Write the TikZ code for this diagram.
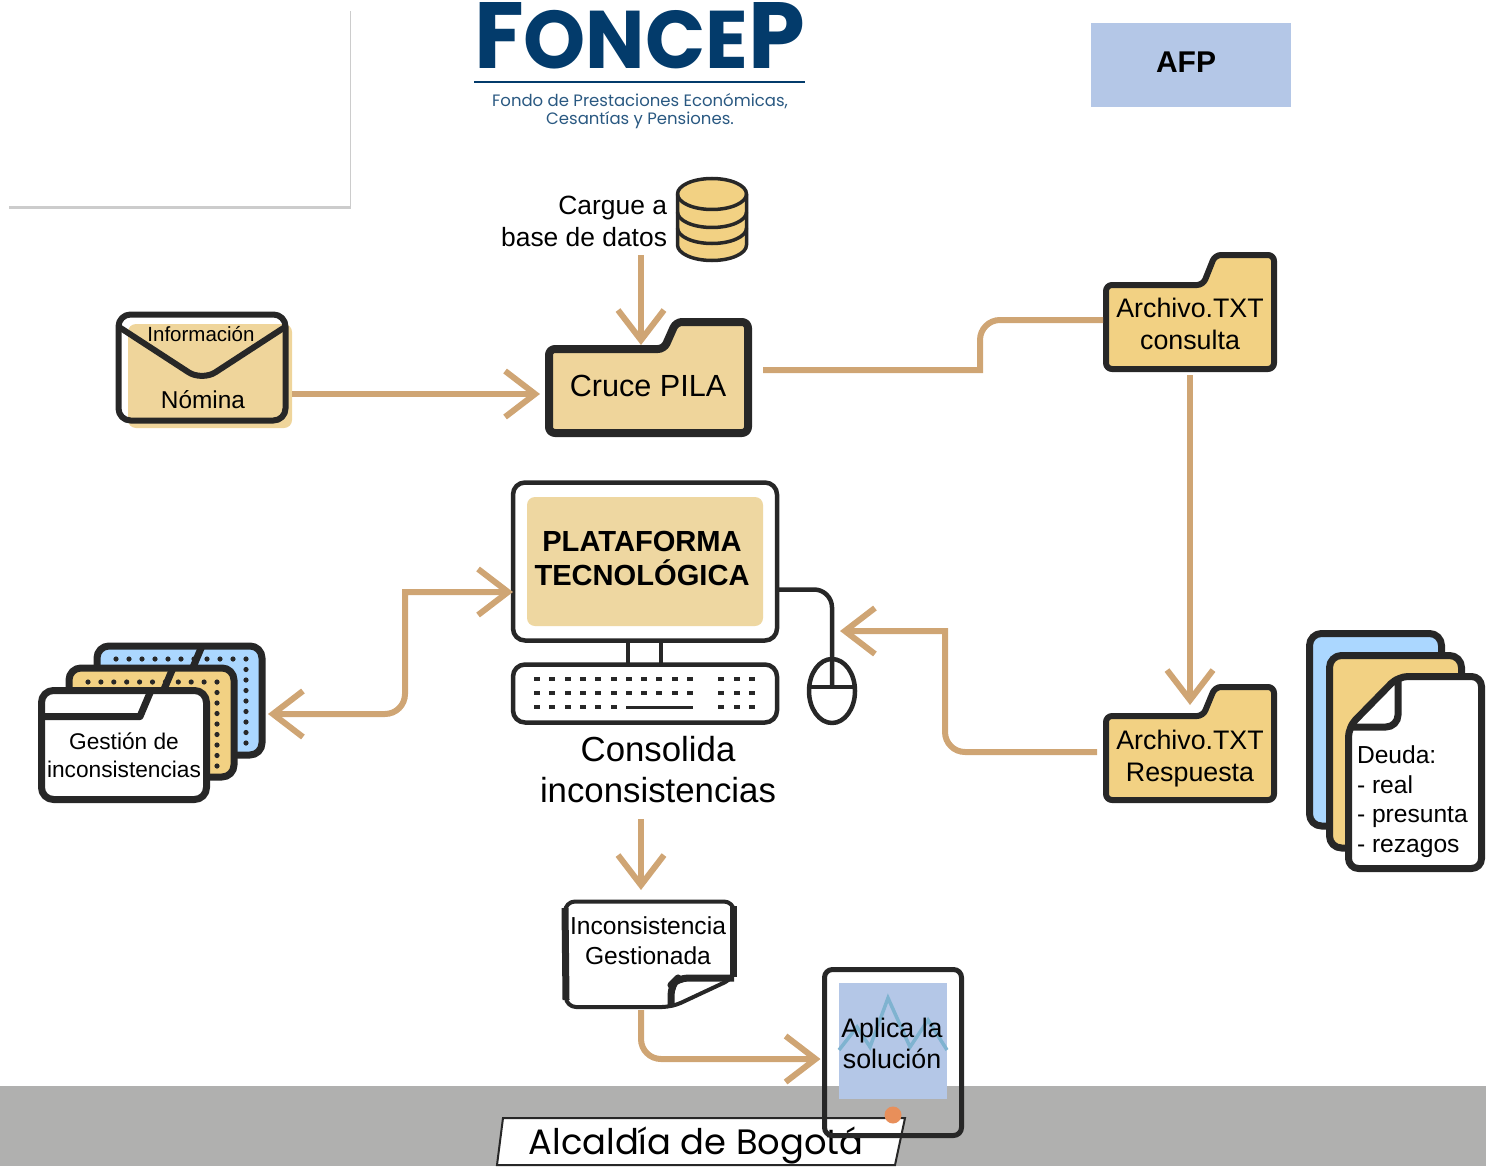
\documentclass[tikz,border=0pt]{standalone}
\usepackage{fontspec}
\setmainfont{Liberation Sans}
\newfontfamily\logofont{Poppins}
\usetikzlibrary{shapes.geometric, arrows.meta, positioning, shadows}

\definecolor{trazo}{HTML}{272727}
\definecolor{flecha}{HTML}{CFA574}
\definecolor{carpeta}{HTML}{F2D183}
\definecolor{arena}{HTML}{EFD59B}
\definecolor{pantalla}{HTML}{EED7A1}
\definecolor{celeste}{HTML}{ABD7FF}
\definecolor{azulclaro}{HTML}{B4C7E7}
\definecolor{azulfoncep}{HTML}{033B6B}
\definecolor{pie}{HTML}{B0B0AF}
\definecolor{pulso}{HTML}{7FB3D0}
\definecolor{punto}{HTML}{E88F5A}

\tikzset{
    arrow/.style={line width=3pt, draw=flecha, >={Straight Barb[length=15pt, width=23pt]}, ->},
    rawlink/.style={line width=3pt, draw=flecha},
    outline/.style={draw=trazo, line width=3pt, line join=round},
    thinline/.style={draw=trazo, line width=2.25pt, line join=round},
    labelbox/.style={inner sep=0pt, outer sep=0pt, align=center, text=black},
    folderbox/.style={labelbox, minimum width=85pt, minimum height=44pt, font=\fontsize{13.4}{16}\selectfont},
    emptybox/.style={inner sep=0pt, outer sep=0pt}
}

% carpeta: x0, y0, x1, y1, y de la solapa, x de la solapa
\newcommand{\folderpath}[6]{(#1,#5) -- (#6,#5) -- ({#6+12},#2) -- (#3,#2) -- (#3,#4) -- (#1,#4) -- cycle}
% carpeta apilada: x0, y0, color, x del corte
\newcommand{\stackfolder}[4]{
    \draw[outline, line width=3.5pt, fill=#3, rounded corners=6pt] (#1,#2) rectangle ({#1+165},{#2+109});
    \draw[outline, line width=3.5pt] (#1,{#2+26}) -- (#4,{#2+26}) -- ({#4+11},#2);
}

\begin{document}
\begin{tikzpicture}[x=0.5pt, y=-0.5pt]
    \useasboundingbox (0,0) rectangle (1486,1166);

    % --- PIE DE PAGINA ---
    \fill[pie] (0,1086) rectangle (1486,1166);
    \fill[white] (503,1118) -- (905,1118) -- (895,1165) -- (497,1165) -- cycle;
    \draw[trazo, line width=1pt] (895,1165) -- (905,1118) -- (503,1118) -- (497,1165) -- cycle;
    \node (alcaldia) [labelbox, font=\logofont\fontsize{17.65}{20}\selectfont] at (696,1145) {Alcaldía de Bogotá};

    % --- LOGO Y TITULOS ---
    \node (tarjeta) [emptybox, fill=white, minimum width=171pt, minimum height=99pt,
        drop shadow={shadow xshift=0.25pt, shadow yshift=-1.5pt, opacity=0.4}] at (179,107) {};
    \node (foncep) [labelbox, text=azulfoncep] at (639.5,36) {\resizebox{165.5pt}{33pt}{\logofont\bfseries\fontsize{46}{46}\selectfont F\fontsize{40}{46}\selectfont ONCE\fontsize{46}{46}\selectfont P}};
    \draw[azulfoncep, line width=1pt] (474,82.5) -- (805,82.5);
    \node (foncep_sub) [labelbox, text=azulfoncep!85!white, font=\logofont\fontsize{8.25}{9}\selectfont] at (640,111) {Fondo de Prestaciones Económicas,\\Cesantías y Pensiones.};
    \node (afp) [labelbox, fill=azulclaro, minimum width=100pt, minimum height=42pt, font=\fontsize{15}{18}\selectfont\bfseries] at (1191,65) {\raisebox{2.5pt}{AFP}\hspace{5pt}};

    % --- BASE DE DATOS ---
    \node (base_datos) [emptybox, minimum width=35pt, minimum height=41.5pt] at (712,220) {};
    \draw[outline, line width=1.75pt, fill=carpeta] (677.5,194) -- (677.5,245) arc[start angle=180, end angle=0, x radius=34.5, y radius=15.5] -- (746.5,194) arc[start angle=0, end angle=-180, x radius=34.5, y radius=15.5] -- cycle;
    \draw[outline, line width=1.75pt] (677.5,194) arc[start angle=180, end angle=0, x radius=34.5, y radius=15.5];
    \draw[outline, line width=1.75pt] (677.5,212) arc[start angle=180, end angle=0, x radius=34.5, y radius=15.5];
    \draw[outline, line width=1.75pt] (677.5,228) arc[start angle=180, end angle=0, x radius=34.5, y radius=15.5];
    \node (cargue) [labelbox, align=right, left=5pt of base_datos, yshift=-0.5pt, font=\fontsize{13.2}{16}\selectfont] {Cargue a\\base de datos};

    % --- NOMINA ---
    \fill[arena, rounded corners=4pt] (128,324) rectangle (292,428);
    \draw[outline, rounded corners=6pt] (118.5,314.5) rectangle (285.5,420.5);
    \draw[outline, rounded corners=8pt] (119,327) -- (202,381) -- (285,327);
    \node (informacion) [labelbox, font=\fontsize{10.25}{12}\selectfont] at (201,334) {Información};
    \node (nomina) [labelbox, minimum width=85pt, minimum height=22pt, font=\fontsize{12.2}{14}\selectfont] at (203,400) {Nómina};

    % --- CRUCE PILA ---
    \draw[outline, line width=4pt, fill=arena, rounded corners=3pt] \folderpath{549}{322}{748}{433}{349}{664};
    \node (cruce_pila) [labelbox, minimum width=100pt, minimum height=47pt, font=\fontsize{15.3}{18}\selectfont] at (648,386) {Cruce PILA};

    % --- ARCHIVOS TXT ---
    \draw[outline, fill=carpeta, rounded corners=3pt] \folderpath{1106}{255}{1274}{369}{285}{1203};
    \node (archivo_consulta) [folderbox] at (1190,324) {Archivo.TXT\\consulta};
    \draw[outline, fill=carpeta, rounded corners=3pt] \folderpath{1106}{687}{1274}{800}{716}{1203};
    \node (archivo_respuesta) [folderbox] at (1190,759) {Archivo.TXT\\Respuesta};

    % --- COMPUTADOR ---
    \node (monitor) [thinline, fill=white, rounded corners=6pt, emptybox, minimum width=132pt, minimum height=79pt] at (645,561.5) {};
    \node (pantalla_pc) [emptybox, fill=pantalla, rounded corners=4pt, minimum width=118pt, minimum height=64.5pt] at (645,561.5) {};
    \node (plataforma) [labelbox, font=\fontsize{14.55}{17}\selectfont\bfseries] at (642,558) {PLATAFORMA\\TECNOLÓGICA};
    \draw[thinline] (628,642) -- (628,663);
    \draw[thinline] (661,642) -- (661,663);
    \node (teclado) [thinline, fill=white, rounded corners=6pt, emptybox, minimum width=132pt, minimum height=29pt] at (645,693.5) {};
    \foreach \y in {679,693}
        \foreach \k in {0,...,10}
            \fill[trazo] ({534+15.3*\k},{\y-2}) rectangle ++(6,4);
    \foreach \k in {0,...,5}
        \fill[trazo] ({534+15.3*\k},705) rectangle ++(6,4);
    \fill[trazo] (626,705.5) rectangle (693,708.5);
    \foreach \y in {679,693,707}
        \foreach \x in {718,734,749}
            \fill[trazo] (\x,{\y-2}) rectangle ++(6,4);
    \node (raton) [thinline, ellipse, emptybox, fill=white, minimum width=23pt, minimum height=32pt] at (832,691) {};
    \draw[thinline] (809,687) -- (855,687);
    \draw[thinline, rounded corners=9pt] ([yshift=-14pt]monitor.east) -- (832,589.5) -- (832,687);

    % --- CARPETAS DE GESTION ---
    \stackfolder{97}{646}{celeste}{191}
    \stackfolder{69}{668}{carpeta}{162}
    \foreach \x in {0,...,10}
        \fill[trazo] ({116+13*\x},659) circle[radius=2.6];
    \foreach \y in {1,...,8}
        \fill[trazo] (246,{659+10.5*\y}) circle[radius=2.6];
    \foreach \x in {0,...,10}
        \fill[trazo] ({88+12.9*\x},682) circle[radius=2.6];
    \foreach \y in {1,...,8}
        \fill[trazo] (217,{682+10.5*\y}) circle[radius=2.6];
    \node (carpeta_azul) [emptybox, minimum width=85.5pt, minimum height=57pt] at (180.5,700) {};
    \stackfolder{41.5}{690.5}{white}{140}
    \node (gestion) [labelbox, font=\fontsize{11.35}{14}\selectfont] at (124,755) {Gestión de\\inconsistencias};

    % --- DEUDA ---
    \draw[outline, line width=3.5pt, fill=celeste, rounded corners=6pt] (1309.5,633.5) rectangle (1441.5,826);
    \draw[outline, line width=3.5pt, fill=carpeta, rounded corners=6pt] (1329.5,655.5) rectangle (1461.5,848);
    \draw[outline, line width=3.5pt, fill=white, rounded corners=5pt] (1348.5,727) -- (1398,676.5) -- (1481.5,676.5) -- (1481.5,868.5) -- (1348.5,868.5) -- cycle;
    \draw[outline, line width=3.5pt, rounded corners=6pt] (1398,676.5) -- (1398,727) -- (1348.5,727);
    \node (deuda) [labelbox, align=left, anchor=west, font=\fontsize{12.3}{14.85}\selectfont] at (1357,801.5) {Deuda:\\- real\\- presunta\\- rezagos};

    % --- CONSOLIDA ---
    \node (consolida) [labelbox, font=\fontsize{17.4}{20.5}\selectfont] at (658,770) {Consolida\\inconsistencias};
    \node (inconsistencia) [labelbox, minimum width=84pt, minimum height=38pt, font=\fontsize{12.3}{15}\selectfont] at (648,941) {Inconsistencia\\Gestionada};
    \draw[outline, line width=2pt, rounded corners=5pt] (565,901.5) -- (734,901.5) -- (734,978) -- (672,1007) -- (566,1007) -- cycle;
    \draw[outline, line width=3.5pt, rounded corners=5pt] (671,1007) -- (671,985) -- (678,978) -- (734,978);
    \draw[outline, line width=3.5pt] (565,908) -- (566,1000);
    \draw[outline, line width=3.5pt] (733,906) -- (733,977);

    % --- TABLETA ---
    \node (pantalla_tablet) [emptybox, fill=azulclaro, minimum width=54pt, minimum height=58pt] at (893,1041) {};
    \draw[color=pulso, line width=1.75pt] (839,1050) -- (857,1027) -- (870,1047) -- (888,998) -- (910,1047) -- (928,1020) -- (947,1050);
    \node (tablet) [outline, line width=2.5pt, emptybox, rounded corners=4pt, minimum width=68.5pt, minimum height=83pt] at (893,1052.5) {};
    \node (aplica) [labelbox, font=\fontsize{13.4}{15.5}\selectfont] at (892,1043.5) {Aplica la\\solución};
    \fill[punto] (893,1115) circle[radius=8.5];

    % --- FLECHAS ---
    \draw [arrow] ([xshift=-13pt,yshift=-4.5pt]cargue.south east) -- ([xshift=-3.5pt,yshift=-3pt]cruce_pila.north);
    \draw [arrow] ([xshift=2pt,yshift=3pt]nomina.east) -- ([xshift=-4pt,yshift=-4pt]cruce_pila.west);
    \draw [rawlink] ([xshift=7.5pt,yshift=8pt]cruce_pila.east) -- ++(217,0) [rounded corners=10pt] -- ++(0,-50) -- ([xshift=-1pt,yshift=2pt]archivo_consulta.west);
    \draw [arrow] ([yshift=-3.5pt]archivo_consulta.south) -- ([yshift=5pt]archivo_respuesta.north);
    \draw [arrow, rounded corners=10pt] ([xshift=-4pt,yshift=3.5pt]archivo_respuesta.west) -- ++(-152,0) [sharp corners] -- ++(0,-121) -- ([xshift=4pt,yshift=14pt]raton.north);
    \draw [arrow, <->, rounded corners=10pt] ([xshift=1pt,yshift=-7pt]carpeta_azul.east) -- ++(137,0) [sharp corners] -- ++(0,-122) -- ([yshift=-15.25pt]monitor.west);
    \draw [arrow] ([xshift=-8.5pt,yshift=-8pt]consolida.south) -- ([xshift=-3.5pt,yshift=6.5pt]inconsistencia.north);
    \draw [arrow, rounded corners=10pt] ([xshift=-3.5pt,yshift=-15.5pt]inconsistencia.south) |- ([xshift=-2pt,yshift=-3.25pt]tablet.west);
\end{tikzpicture}
\end{document}
